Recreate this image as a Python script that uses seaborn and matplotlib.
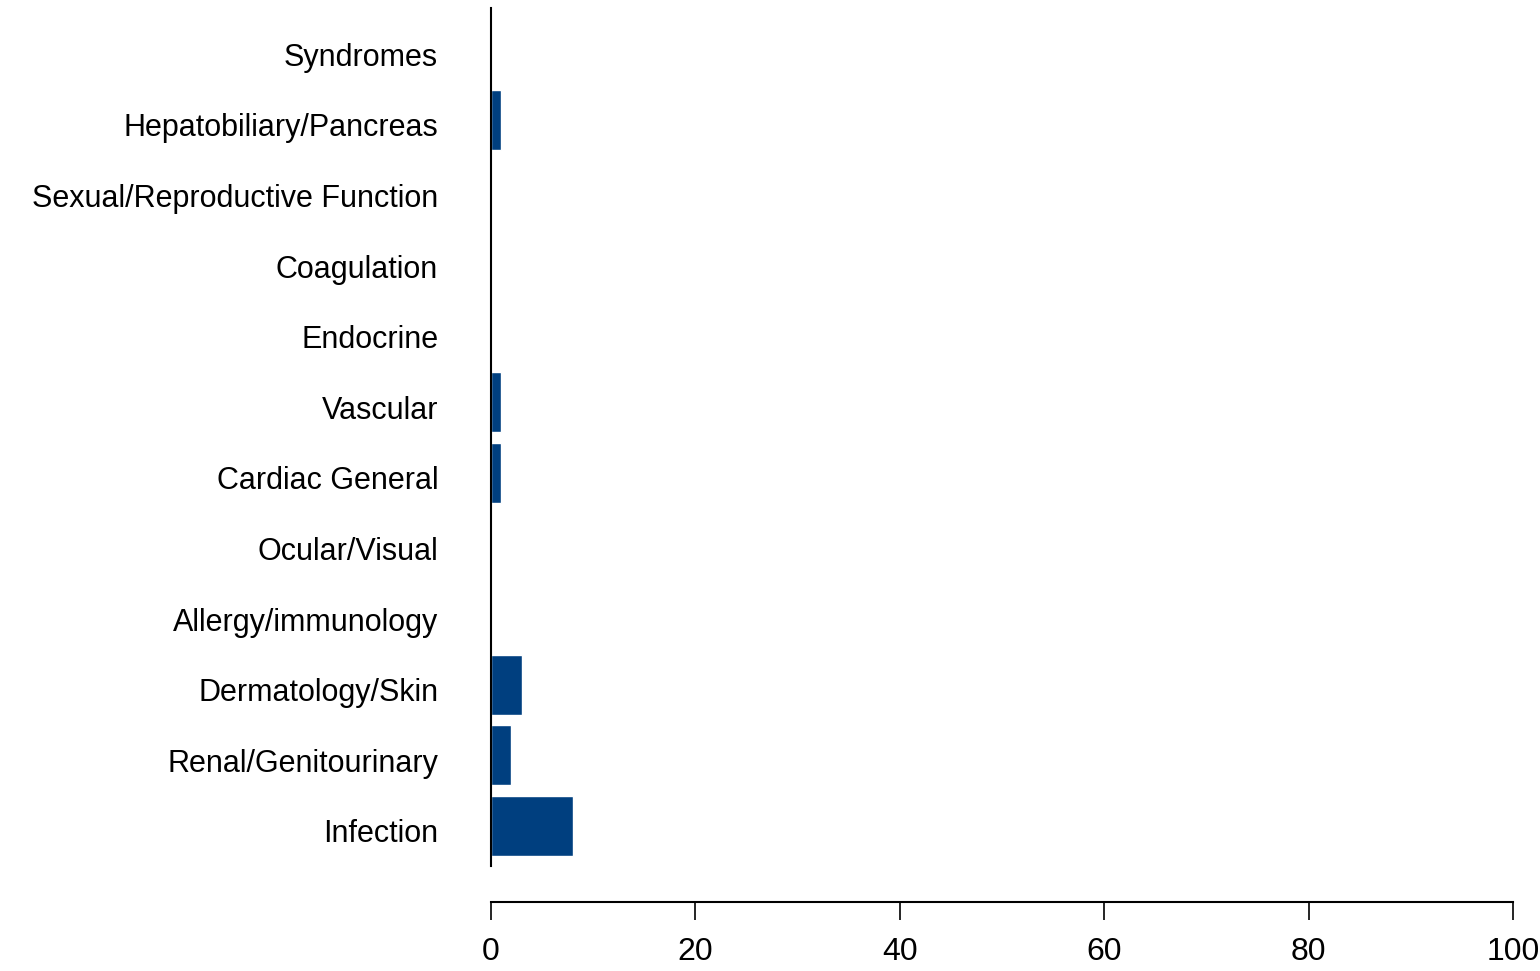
import pandas as pd
import seaborn as sns
import matplotlib.pyplot as plt
import matplotlib.transforms as mtransforms

# Categories (top to bottom) and counts
categories = ["Syndromes", "Hepatobiliary/Pancreas", "Sexual/Reproductive Function",
              "Coagulation", "Endocrine", "Vascular", "Cardiac General",
              "Ocular/Visual", "Allergy/immunology", "Dermatology/Skin",
              "Renal/Genitourinary", "Infection"]
counts = [0, 1, 0, 0, 0, 1, 1, 0, 0, 3, 2, 8]
x_ticks = [0, 20, 40, 60, 80, 100]

df = pd.DataFrame({"Category": categories, "Count": counts})

sns.set_style("white")
plt.rcParams['font.family'] = ['Liberation Sans', 'DejaVu Sans']

fig = plt.figure(figsize=(15.4, 9.71), dpi=100)
ax = fig.add_axes([491 / 1540, 1 - 866 / 971, 1022 / 1540, 858 / 971])

sns.barplot(data=df, x="Count", y="Category", order=categories, color="#003f7f",
            saturation=1, width=0.85, orient="h", ax=ax)

ax.set_xlim(0, 100)
ax.set_ylim(11.57, -0.585)
ax.set_xticks(x_ticks)
ax.set_xlabel("")
ax.set_ylabel("")

for s in ["top", "right"]:
    ax.spines[s].set_visible(False)
ax.spines["left"].set_color("black")
ax.spines["left"].set_linewidth(1.5)
ax.spines["bottom"].set_color("black")
ax.spines["bottom"].set_linewidth(1.5)
ax.spines["bottom"].set_position(("outward", 26))

ax.tick_params(axis="x", direction="out", length=13, width=1.2, color="black",
               pad=12, labelsize=23, labelcolor="black", bottom=True)
ax.tick_params(axis="y", length=0, pad=38, labelsize=22, labelcolor="black")

# labels in the reference sit a little below the bar centres
shift = mtransforms.ScaledTranslation(0, -5 / 100, fig.dpi_scale_trans)
for lbl in ax.get_yticklabels():
    lbl.set_transform(lbl.get_transform() + shift)

plt.savefig("out.png", dpi=100)
